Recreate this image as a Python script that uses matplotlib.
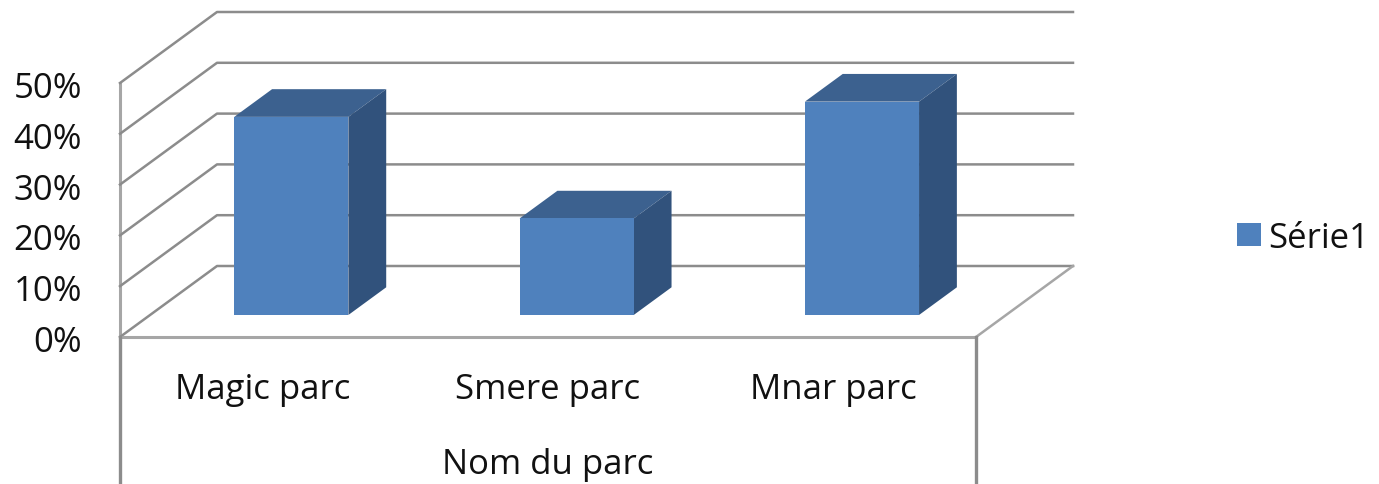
# parc_bars_3d.py
import numpy as np
import matplotlib
matplotlib.use("Agg")
import matplotlib.pyplot as plt

plt.rcParams['font.family'] = ['Open Sans', 'DejaVu Sans']

# Data
parcs = ["Magic parc", "Smere parc", "Mnar parc"]
values = [39, 19, 42]          # percent
y_ticks = [0, 10, 20, 30, 40, 50]
y_labels = ["0%", "10%", "20%", "30%", "40%", "50%"]
x_title = "Nom du parc"
series_name = "Série1"

# Layout (one x unit = one category, one y unit = 1%)
W, H = 1379, 484
px_x = 856/3           # pixels per category
px_y = 5.08            # pixels per %
x0, y0 = 120, 337      # front bottom-left corner in pixels
depth_x = 97/px_x      # floor depth in data units
depth_y = 71/px_y
bar_w = 0.40
bar_d = 0.39           # bar depth, as fraction of floor depth
bar_off = 0.31         # gap in front of bars, fraction of floor depth

grid_col = "#8c8c8c"
front_col = "#4f81bd"
top_col = "#3c618f"
side_col = "#31527c"
text_col = "#111111"
font_size = 25

fig = plt.figure(figsize=(W/100, H/100), dpi=100)
ax = fig.add_axes([0, 0, 1, 1])
ax.set_xlim(-x0/px_x, (W-x0)/px_x)
ax.set_ylim((y0-H)/px_y, y0/px_y)
ax.axis("off")

# Walls and gridlines
ax.plot([0, 0], [0, y_ticks[-1]], color="#a6a6a6", lw=2.2, zorder=1)
for v in y_ticks:
    ax.plot([0, depth_x, 3+depth_x], [v, v+depth_y, v+depth_y], color=grid_col, lw=1.8, zorder=1)
ax.plot([3, 3+depth_x], [0, depth_y], color="#a6a6a6", lw=1.8, zorder=1)

# Front edge and table lines under the plot
bottom = (y0-H)/px_y
ax.plot([0, 3], [0, 0], color="#a6a6a6", lw=2.2, zorder=2)
ax.plot([0, 0], [0, bottom], color=grid_col, lw=2.4, zorder=2)
ax.plot([3, 3], [0, bottom], color=grid_col, lw=2.4, zorder=2)

# Bars
for i, v in enumerate(values):
    left = i + 0.5 - bar_w/2 - 0.005
    right = left + bar_w
    bx = bar_off*depth_x
    base = bar_off*depth_y
    dx = bar_d*depth_x
    dy = bar_d*depth_y
    xs_front = np.array([left, right, right, left]) + bx
    ys_front = np.array([0, 0, v, v]) + base
    ax.fill(xs_front, ys_front, color=front_col, lw=0, zorder=5)
    ax.fill([left+bx, right+bx, right+bx+dx, left+bx+dx],
            [v+base, v+base, v+base+dy, v+base+dy], color=top_col, lw=0, zorder=4)
    ax.fill([right+bx, right+bx+dx, right+bx+dx, right+bx],
            [base, base+dy, v+base+dy, v+base], color=side_col, lw=0, zorder=4)

# Text
for v, lab in zip(y_ticks, y_labels):
    ax.text(-38/px_x, v-1.2, lab, ha="right", va="center", fontsize=font_size, color=text_col)
for i, name in enumerate(parcs):
    ax.text(i + 0.5, -10.5, name, ha="center", va="center", fontsize=font_size, color=text_col)
ax.text(1.5, -25.2, x_title, ha="center", va="center", fontsize=font_size, color=text_col)

# Legend
ax.bar([3.958], [4.6], width=24/px_x, bottom=[17.9], color=front_col, lw=0)
ax.text(4.025, 19.2, series_name, ha="left", va="center", fontsize=font_size, color=text_col)

plt.savefig("out.png", dpi=100)
plt.close(fig)
